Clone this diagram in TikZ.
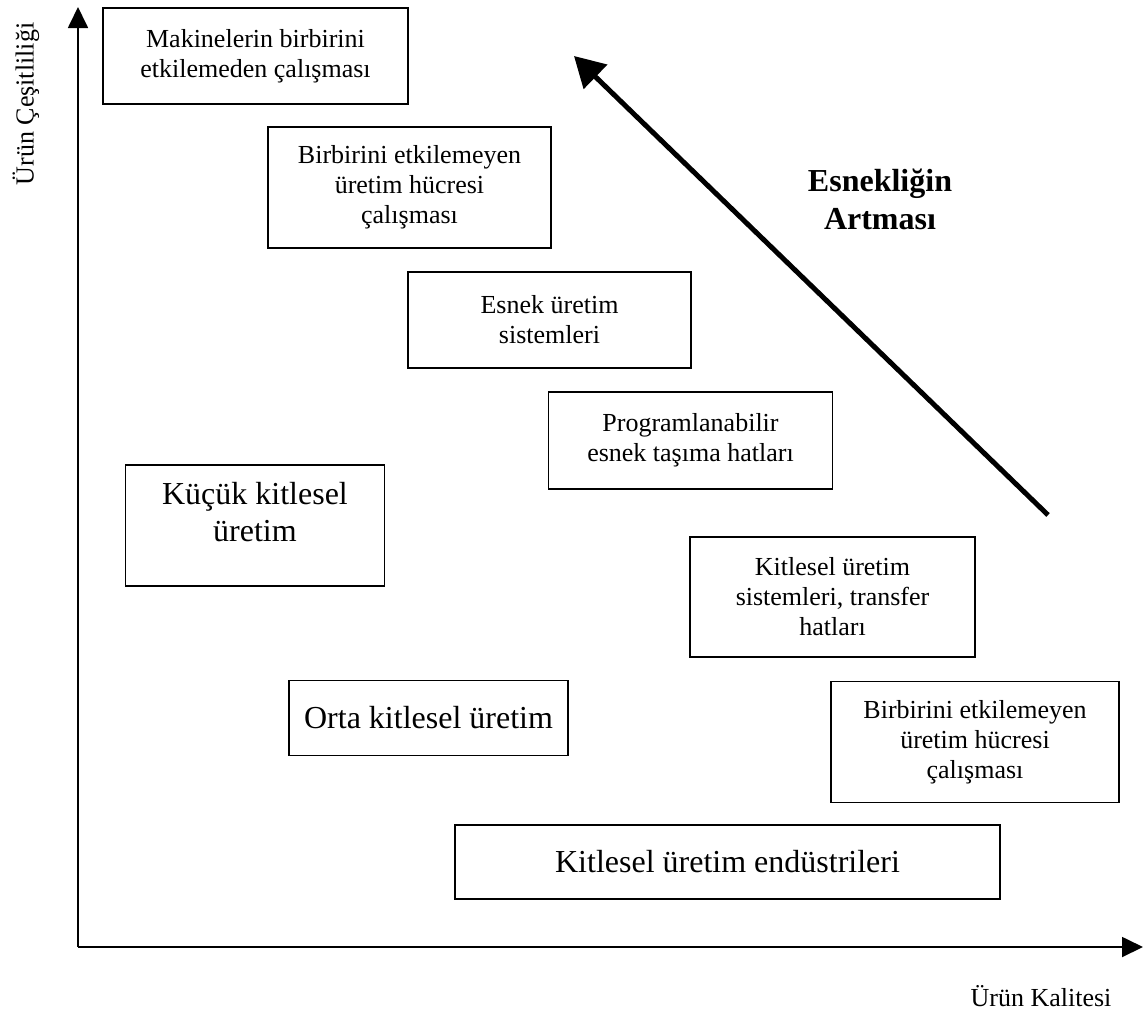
\documentclass[tikz,border=0pt]{standalone}
\usepackage{fontspec}
\setmainfont{Liberation Serif}
\usetikzlibrary{arrows.meta}

\def\kucukyazi{\fontsize{26}{30}\selectfont}
\def\buyukyazi{\fontsize{32}{37}\selectfont}

\tikzset{
    kutu/.style={draw, line width=1.6pt, align=center, inner sep=0pt, font=\kucukyazi},
    buyukkutu/.style={kutu, font=\buyukyazi},
    eksen/.style={line width=1.8pt, -{Triangle[length=21pt,width=20pt]}},
}

\begin{document}
\begin{tikzpicture}[x=1pt, y=-1pt]
    \useasboundingbox (0,0) rectangle (1146,1013);
    % eksenler
    \coordinate (orijin) at (78,947);
    \coordinate (yust) at (78,7);
    \coordinate (xsag) at (1143,947);
    \draw[eksen] (orijin) -- (yust);
    \draw[eksen] (orijin) -- (xsag);
    \node[rotate=90, font=\kucukyazi] (yeksen) at (26,104) {Ürün Çeşitliliği};
    \node[font=\kucukyazi] (xeksen) at (1041,996) {Ürün Kalitesi};

    % kutular
    \node[kutu, minimum width=305pt, minimum height=96pt] (makine) at (255.5,56) {Makinelerin birbirini\\etkilemeden çalışması};
    \node[kutu, minimum width=283pt, minimum height=121pt] (hucre1) at (409.5,187.5) {Birbirini etkilemeyen\\üretim hücresi\\çalışması};
    \node[kutu, minimum width=283pt, minimum height=96pt] (esnek) at (549.5,320) {Esnek üretim\\sistemleri};
    \node[kutu, minimum width=284pt, minimum height=97pt] (program) at (690.5,440.5) {Programlanabilir\\esnek taşıma hatları};
    \node[buyukkutu, minimum width=259pt, minimum height=121pt, text depth=28pt] (kucuk) at (255,525.5) {Küçük kitlesel\\üretim};
    \node[kutu, minimum width=285pt, minimum height=120pt] (kitsis) at (832.5,597) {Kitlesel üretim\\sistemleri, transfer\\hatları};
    \node[buyukkutu, minimum width=279pt, minimum height=75pt] (orta) at (428.5,718) {Orta kitlesel üretim};
    \node[kutu, minimum width=288pt, minimum height=121pt] (hucre2) at (975,742) {Birbirini etkilemeyen\\üretim hücresi\\çalışması};
    \node[buyukkutu, minimum width=545pt, minimum height=74pt] (endustri) at (727.5,862) {Kitlesel üretim endüstrileri};

    % esneklik oku
    \coordinate (okbas) at (1048,515);
    \coordinate (okuc) at (574,56);
    \draw[line width=5pt, -{Triangle[length=30pt,width=33pt]}] (okbas) -- (okuc);
    \node[font=\fontsize{32}{38}\selectfont\bfseries, align=center] (esneklik) at (880,199) {Esnekliğin\\Artması};
\end{tikzpicture}
\end{document}
